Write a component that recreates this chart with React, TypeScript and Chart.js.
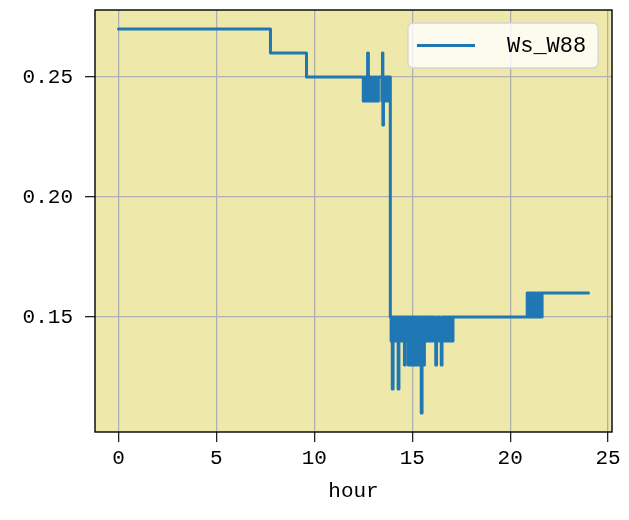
import React, { useEffect, useRef } from "react";
import { Chart, registerables } from "chart.js";

Chart.register(...registerables);

const seriesLabel = "Ws_W88";
const xTitle = "hour";
const xTickValues = [0, 5, 10, 15, 20, 25];
const yTickValues = [0.15, 0.2, 0.25];

// step changes: from hours[i] onward the value is windSpeed[i]
const hours = [
  0, 7.76, 9.6,
  12.5, 12.58, 12.64, 12.72, 12.76, 12.84, 12.9, 12.98, 13.04, 13.12, 13.18, 13.27,
  13.45, 13.48, 13.5, 13.53, 13.6, 13.66, 13.72, 13.78, 13.84,
  13.88, 13.92, 13.96, 13.98, 14.02, 14.06, 14.12, 14.18, 14.24, 14.28, 14.32, 14.36,
  14.42, 14.48, 14.54, 14.6, 14.64, 14.7, 14.76, 14.8, 14.86, 14.92, 14.98, 15.04,
  15.1, 15.16, 15.22, 15.28, 15.34, 15.4, 15.44, 15.46, 15.5, 15.56, 15.62, 15.66,
  15.72, 15.78, 15.84, 15.9, 15.96, 16.02, 16.08, 16.14, 16.2, 16.24, 16.3, 16.36,
  16.42, 16.48, 16.52, 16.58, 16.64, 16.7, 16.76, 16.82, 16.88, 16.94, 17.0, 17.04, 17.08,
  20.87, 20.93, 21.0, 21.06, 21.13, 21.19, 21.26, 21.32, 21.39, 21.45, 21.52, 21.58, 21.63,
  24.0,
];
const windSpeed = [
  0.27, 0.26, 0.25,
  0.24, 0.25, 0.24, 0.26, 0.24, 0.25, 0.24, 0.25, 0.24, 0.25, 0.24, 0.25,
  0.24, 0.26, 0.23, 0.24, 0.25, 0.24, 0.25, 0.24, 0.25,
  0.15, 0.14, 0.15, 0.12, 0.15, 0.14, 0.15, 0.14, 0.15, 0.12, 0.15, 0.14,
  0.15, 0.14, 0.15, 0.13, 0.15, 0.14, 0.15, 0.13, 0.15, 0.13, 0.15, 0.13,
  0.15, 0.13, 0.15, 0.13, 0.15, 0.13, 0.15, 0.11, 0.15, 0.13, 0.15, 0.14,
  0.15, 0.14, 0.15, 0.14, 0.15, 0.14, 0.15, 0.14, 0.13, 0.15, 0.14, 0.15,
  0.14, 0.13, 0.15, 0.14, 0.15, 0.14, 0.15, 0.14, 0.15, 0.14, 0.15, 0.14, 0.15,
  0.16, 0.15, 0.16, 0.15, 0.16, 0.15, 0.16, 0.15, 0.16, 0.15, 0.16, 0.15, 0.16,
  0.16,
];

const LINE_COLOR = "#1f77b4";
const PLOT_BG = "#EEE8AA";
const FONT = "'Liberation Mono', 'DejaVu Sans Mono', monospace";

const framePlugin = {
  id: "frame",
  beforeDraw(chart: any) {
    const { ctx, chartArea: a } = chart;
    ctx.save();
    ctx.fillStyle = "#ffffff";
    ctx.fillRect(0, 0, chart.width, chart.height);
    ctx.fillStyle = PLOT_BG;
    ctx.fillRect(a.left, a.top, a.right - a.left, a.bottom - a.top);
    ctx.restore();
  },
  afterDatasetsDraw(chart: any) {
    const { ctx, chartArea: a } = chart;
    ctx.save();
    ctx.strokeStyle = "#000000";
    ctx.lineWidth = 1.4;
    ctx.strokeRect(a.left, a.top, a.right - a.left, a.bottom - a.top);
    ctx.restore();
  },
  afterDraw(chart: any) {
    const { ctx, chartArea: a } = chart;
    const w = 190;
    const h = 45;
    const x = a.right - 14 - w;
    const y = a.top + 13;
    ctx.save();
    ctx.beginPath();
    (ctx as any).roundRect(x, y, w, h, 5);
    ctx.fillStyle = "rgba(255,255,255,0.8)";
    ctx.fill();
    ctx.strokeStyle = "#d4d4d4";
    ctx.lineWidth = 1.3;
    ctx.stroke();
    ctx.beginPath();
    ctx.moveTo(x + 9, y + h / 2);
    ctx.lineTo(x + 67, y + h / 2);
    ctx.strokeStyle = LINE_COLOR;
    ctx.lineWidth = 2.8;
    ctx.stroke();
    ctx.fillStyle = "#000000";
    ctx.font = `22px ${FONT}`;
    ctx.textAlign = "left";
    ctx.textBaseline = "middle";
    ctx.fillText(chart.data.datasets[0].label, x + 99, y + h / 2 + 1);
    ctx.restore();
  },
};

export default function App() {
  const ref = useRef<HTMLCanvasElement | null>(null);
  useEffect(() => {
    if (!ref.current) return;
    const points = hours.map((h, i) => ({ x: h, y: windSpeed[i] }));
    const chart = new Chart(ref.current, {
      type: "line",
      data: {
        datasets: [
          {
            label: seriesLabel,
            data: points,
            borderColor: LINE_COLOR,
            backgroundColor: LINE_COLOR,
            borderWidth: 3,
            pointRadius: 0,
            stepped: "before",
            borderCapStyle: "round",
            borderJoinStyle: "round",
            fill: false,
          },
        ],
      },
      options: {
        responsive: false,
        animation: false,
        layout: { padding: { left: 0, top: 10, right: 17, bottom: 0 } },
        plugins: { legend: { display: false }, tooltip: { enabled: false } },
        scales: {
          x: {
            type: "linear",
            min: -1.2,
            max: 25.2,
            afterBuildTicks: (s: any) => {
              s.ticks = xTickValues.map((v) => ({ value: v }));
            },
            afterFit: (s: any) => {
              s.height = 88;
              s.paddingLeft = 0;
              s.paddingRight = 0;
            },
            grid: { color: "#b0b0b0", lineWidth: 1.3, tickLength: 10, tickColor: "#222", tickWidth: 1.3 },
            border: { display: false },
            ticks: {
              color: "#000",
              font: { family: FONT, size: 21 },
              padding: 4,
              maxRotation: 0,
              callback: (v: any) => String(v),
            },
            title: {
              display: true,
              text: xTitle,
              color: "#000",
              font: { family: FONT, size: 21 },
              padding: { top: 0, bottom: 16 },
            },
          },
          y: {
            type: "linear",
            min: 0.1021,
            max: 0.2779,
            afterBuildTicks: (s: any) => {
              s.ticks = yTickValues.map((v) => ({ value: v }));
            },
            afterFit: (s: any) => {
              s.width = 95;
              s.paddingTop = 0;
              s.paddingBottom = 0;
            },
            grid: { color: "#b0b0b0", lineWidth: 1.3, tickLength: 10, tickColor: "#222", tickWidth: 1.3 },
            border: { display: false },
            ticks: {
              color: "#000",
              font: { family: FONT, size: 21 },
              padding: 12,
              callback: (v: any) => Number(v).toFixed(2),
            },
          },
        },
      },
      plugins: [framePlugin],
    });
    return () => chart.destroy();
  }, []);
  return (
    <div style={{ position: "fixed", left: 0, top: 0, width: 629, height: 520, background: "#fff" }}>
      <canvas ref={ref} width={629} height={520} />
    </div>
  );
}
